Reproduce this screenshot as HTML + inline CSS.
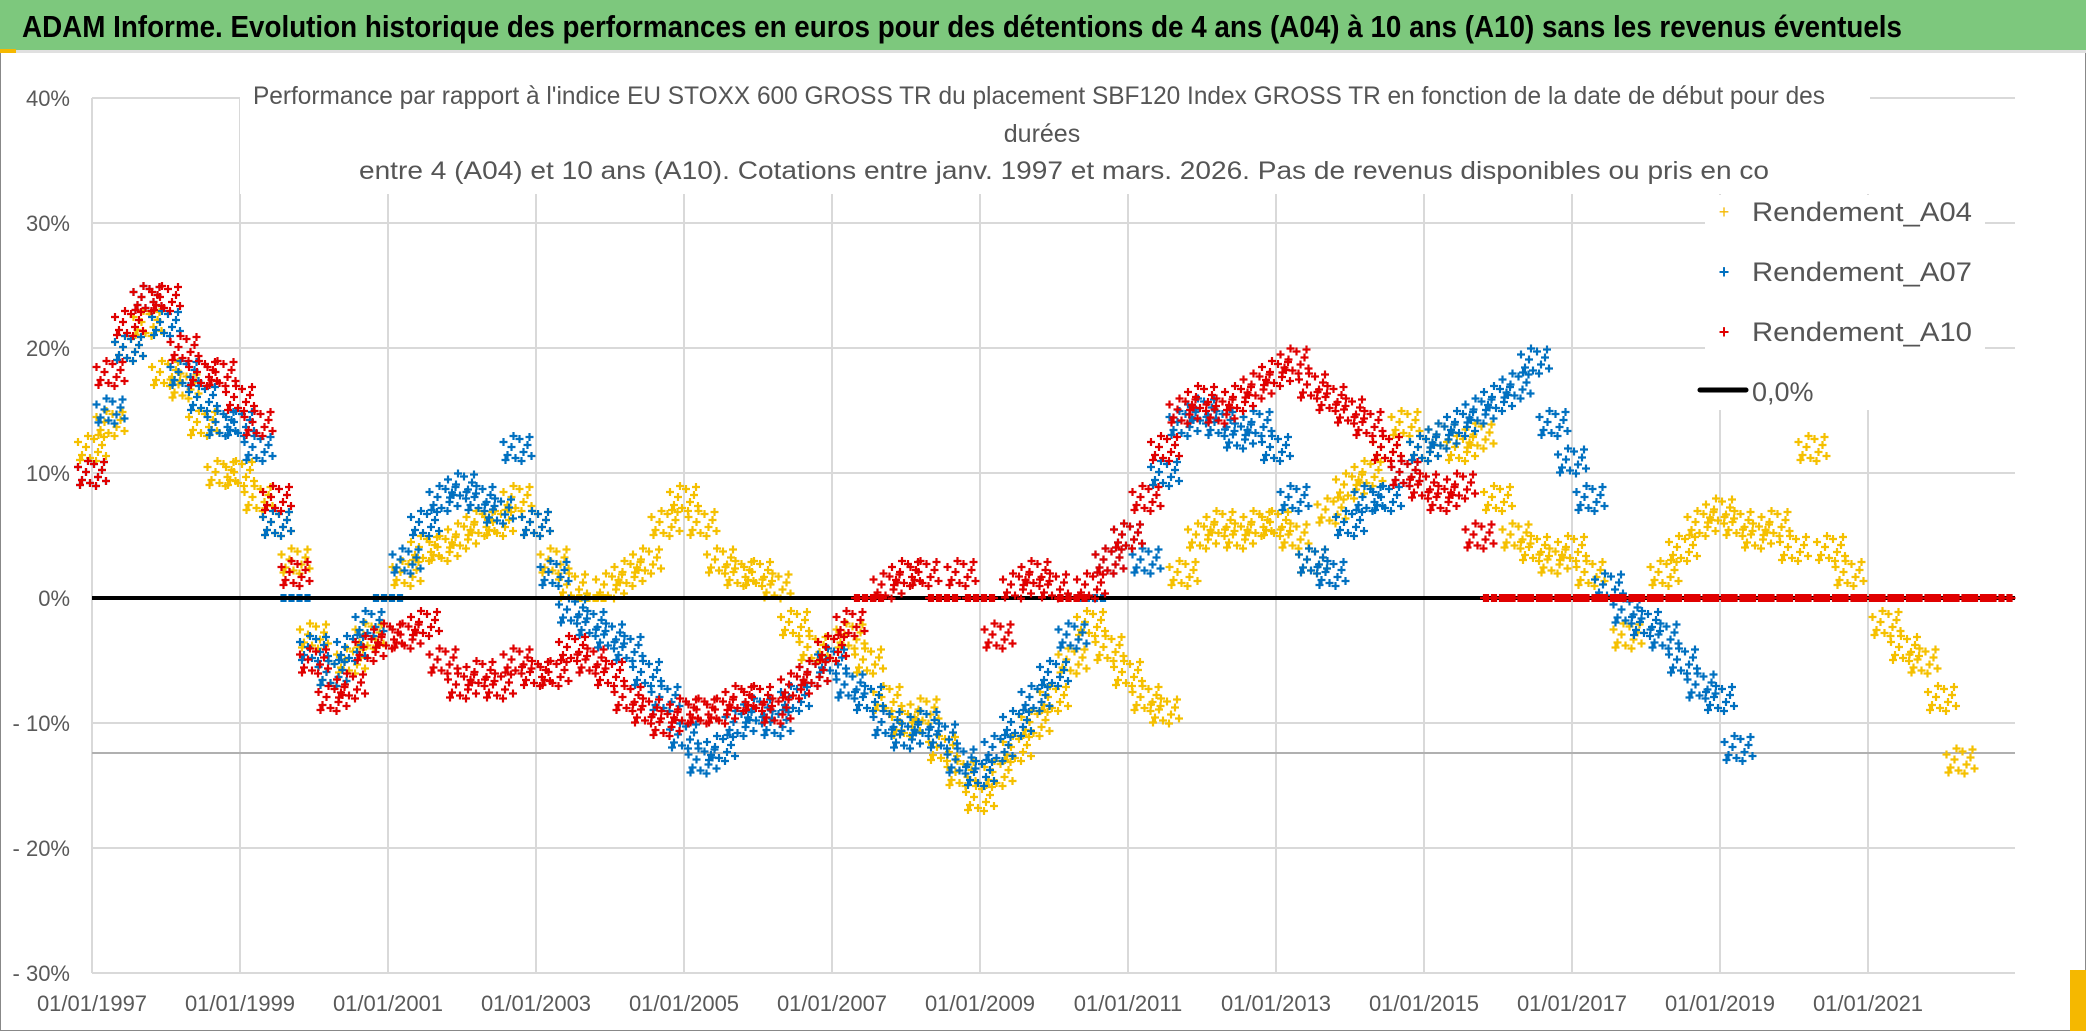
<!DOCTYPE html>
<html><head><meta charset="utf-8"><style>
body{margin:0;background:#fff;}
svg{display:block;font-family:"Liberation Sans",sans-serif;}
</style></head><body>
<svg id="chart" width="2086" height="1031" viewBox="0 0 2086 1031">
<rect x="0" y="0" width="2086" height="1031" fill="#fff" stroke="#888" stroke-width="2"/>
<rect x="0" y="0" width="2086" height="50" fill="#7dc87d"/>
<rect x="0" y="50" width="2086" height="3" fill="#e0e0e0"/>
<rect x="0" y="49" width="16" height="4" fill="#f5b800"/>
<rect x="2070" y="970" width="16" height="61" fill="#f5b800"/>
<text x="22" y="37" font-size="31" font-weight="bold" fill="#000" textLength="1880" lengthAdjust="spacingAndGlyphs">ADAM Informe. Evolution historique des performances en euros pour des détentions de 4 ans (A04) à 10 ans (A10) sans les revenus éventuels</text>
<g id="grid"></g>
<g id="yaxis"></g>
<g id="xaxis"></g>
<rect x="240" y="72" width="1630" height="122" fill="#fff"/>
<g id="series"></g>
<g font-size="25" fill="#555">
<text x="253" y="104" textLength="1572" lengthAdjust="spacingAndGlyphs">Performance par rapport à l'indice EU STOXX 600 GROSS TR  du placement SBF120 Index GROSS TR en fonction de la date de début pour des</text>
<text x="1042" y="142" text-anchor="middle">durées</text>
<text x="359" y="179" textLength="1410" lengthAdjust="spacingAndGlyphs">entre 4 (A04) et 10 ans (A10). Cotations entre janv. 1997 et mars. 2026. Pas de revenus disponibles ou pris en co</text>
</g>
<rect x="1705" y="195" width="280" height="215" fill="#fff"/>
<g font-size="27" fill="#555">
<g><text x="1724" y="218" fill="#f5b800" font-size="18" text-anchor="middle">+</text><text x="1752" y="221" textLength="220" lengthAdjust="spacingAndGlyphs">Rendement_A04</text></g>
<g><text x="1724" y="278" fill="#0070c0" font-size="18" font-weight="bold" text-anchor="middle">+</text><text x="1752" y="281" textLength="220" lengthAdjust="spacingAndGlyphs">Rendement_A07</text></g>
<g><text x="1724" y="338" fill="#e00000" font-size="18" font-weight="bold" text-anchor="middle">+</text><text x="1752" y="341" textLength="220" lengthAdjust="spacingAndGlyphs">Rendement_A10</text></g>
<g><line x1="1700" y1="390" x2="1746" y2="390" stroke="#000" stroke-width="5" stroke-linecap="round"/><text x="1752" y="401">0,0%</text></g>
</g>
</svg>
<script>
const yTicks=[40,30,20,10,0,-10,-20,-30];
const yTickLabels=["40%","30%","20%","10%","0%","- 10%","- 20%","- 30%"];
const xTicks=[1997,1999,2001,2003,2005,2007,2009,2011,2013,2015,2017,2019,2021];
const xTickLabels=["01/01/1997","01/01/1999","01/01/2001","01/01/2003","01/01/2005","01/01/2007","01/01/2009","01/01/2011","01/01/2013","01/01/2015","01/01/2017","01/01/2019","01/01/2021"];
const refLine=-12.4;
const a04Start=1997.0;
const a04=[12,14,20,22,18,17,14,10,10,8,6,3,-3,-6,-5,-3,0,2,4,4,5,6,6,8,6,3,1,0,1,2,3,6,8,6,3,2,2,1,-2,-4,-4,-3,-5,-8,-10,-9,-12,-14,-16,-14,-12,-10,-8,-5,-2,-4,-6,-8,-9,2,5,6,5,6,6,5,3,7,9,10,12,14,12,13,12,13,8,5,4,3,4,2,0,-3,0,2,4,6,7,6,5,6,4,12,4,2,0,-2,-4,-5,-8,-13];
const a07Start=1997.0;
const a07=[10,15,20,24,22,18,16,14,14,12,6,0,-4,-6,-4,-2,0,3,6,8,9,8,7,12,6,2,-1,-2,-3,-4,-6,-8,-11,-13,-12,-10,-9,-10,-8,-6,-5,-7,-8,-10,-11,-10,-11,-13,-14,-12,-10,-8,-6,-3,0,3,5,3,10,14,15,14,13,14,12,8,3,2,6,8,8,10,12,13,14,15,16,17,19,14,11,8,1,-1,-2,-3,-5,-7,-8,-12];
const a10Start=1997.0;
const a10=[10,18,22,24,24,20,18,18,16,14,8,2,-5,-8,-7,-4,-3,-3,-2,-5,-7,-6,-7,-5,-6,-6,-4,-5,-6,-8,-9,-10,-9,-9,-9,-8,-8,-9,-7,-6,-4,-2,0,1,2,2,0,2,0,-3,1,2,1,0,1,3,5,8,12,15,16,15,16,17,18,19,17,16,15,14,12,10,9,8,9,5,0,0,0,0,0,0,0,0,0,0,0,0,0,0,0,0,0,0,0,0,0,0,0,0,0,0,0,0];
const step=0.25;

const X0=92,PX_PER_YEAR=74,Y0=598,PX_PER_PCT=12.5,XR=2015;
const xS=y=>X0+(y-1997)*PX_PER_YEAR;
const yS=v=>Y0-v*PX_PER_PCT;
const NS="http://www.w3.org/2000/svg";
function mk(tag,attrs,parent){const e=document.createElementNS(NS,tag);for(const k in attrs)e.setAttribute(k,attrs[k]);parent.appendChild(e);return e;}
const grid=document.getElementById('grid'),ya=document.getElementById('yaxis'),xa=document.getElementById('xaxis'),ser=document.getElementById('series');
yTicks.forEach((t,i)=>{
 const l=mk('line',{x1:X0,x2:XR,y1:yS(t),y2:yS(t),stroke:'#d9d9d9','stroke-width':2},grid);
 
 
 const tx=mk('text',{x:70,y:yS(t)+8,'font-size':22,fill:'#595959','text-anchor':'end'},ya);
 tx.textContent=yTickLabels[i];
 
 
});
xTicks.forEach((t,i)=>{
 const l=mk('line',{x1:xS(t),x2:xS(t),y1:yS(40),y2:yS(-30),stroke:'#d9d9d9','stroke-width':2},grid);
 
 
 const tx=mk('text',{x:xS(t),y:1011,'font-size':22,fill:'#595959','text-anchor':'middle'},xa);
 tx.textContent=xTickLabels[i];
 
 
});
const rl=mk('line',{x1:X0,x2:XR,y1:yS(refLine),y2:yS(refLine),stroke:'#b0b0b0','stroke-width':2},grid);



const offs=[[-14,-6],[-10,7],[-6,-1],[-2,10],[2,-9],[6,4],[10,-3],[14,8],[-12,12],[-4,-12],[4,13],[12,-11]];
function drawSeries(vals,start,color,name){
 const g=mk('g',{stroke:color,'stroke-width':2.2},ser);
 
 
 let d='';
 vals.forEach((v,i)=>{
  const cx=xS(start+i*step),cy=yS(v);
  offs.forEach(([dx,dy])=>{
   const x=cx+dx,y=cy+(v===0?0:dy);
   d+=`M${x-4},${y}H${x+4}M${x},${y-4}V${y+4}`;
  });
 });
 const p=mk('path',{d:d,fill:'none'},g);
 
 
}
drawSeries(a04,a04Start,'#f5c000','series-a04');
drawSeries(a07,a07Start,'#0070c0','series-a07');
const zl=mk('line',{x1:X0,x2:XR,y1:yS(0),y2:yS(0),stroke:'#000','stroke-width':4},ser);


drawSeries(a10,a10Start,'#e00000','series-a10');
</script>
</body></html>
